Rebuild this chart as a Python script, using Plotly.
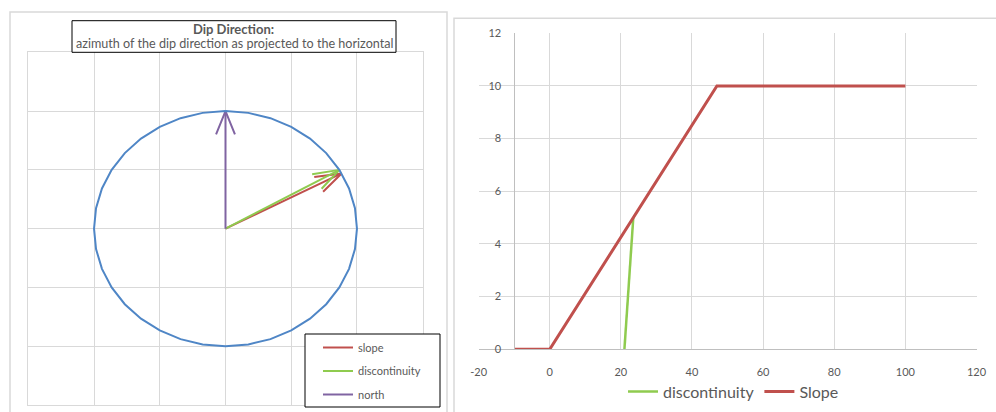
import numpy as np
import plotly.graph_objects as go

# ---- Dip-direction panel: azimuths in degrees, clockwise from north ----
AZ_LABELS = ["slope", "discontinuity", "north"]
AZ_DEGREES = [62, 60, 0]
AZ_COLORS = ["#C0504D", "#8FCB4F", "#8064A2"]
CIRCLE_RADIUS = 1.0
CIRCLE_STEP_DEG = 10

# ---- Cross-section panel ----
SLOPE_X = [-10, 0, 47, 100]
SLOPE_Y = [0, 0, 10, 10]
DISC_X = [21, 23.5]
DISC_Y = [0, 5]
X_TICKS = [-20, 0, 20, 40, 60, 80, 100, 120]
X_TICK_TEXT = ["-20", "0", "20", "40", "60", "80", "100", "120"]
Y_TICKS = [0, 2, 4, 6, 8, 10, 12]

W, H = 996, 412
FONT = "Lato"
GRID = "#D9D9D9"
AXIS = "#BFBFBF"
TEXT = "#595959"


def px(x):
    return x / W


def py(y):
    return 1 - y / H


def arrow_path(az_deg, length, head=0.21, spread=20):
    """Shaft from the origin plus an open arrowhead at the tip."""
    a = np.radians(az_deg)
    tx, ty = length * np.sin(a), length * np.cos(a)
    back = a + np.pi
    xs, ys = [0, tx, None], [0, ty, None]
    b1, b2 = back - np.radians(spread), back + np.radians(spread)
    xs += [tx + head * np.sin(b1), tx, tx + head * np.sin(b2)]
    ys += [ty + head * np.cos(b1), ty, ty + head * np.cos(b2)]
    return xs, ys


fig = go.Figure()

# arrows
for name, az, col in zip(AZ_LABELS, AZ_DEGREES, AZ_COLORS):
    xs, ys = arrow_path(az, CIRCLE_RADIUS)
    fig.add_trace(go.Scatter(
        x=xs, y=ys, mode="lines", name=name,
        line=dict(color=col, width=2),
        xaxis="x", yaxis="y", legend="legend2", legendgroup=name,
        hoverinfo="skip",
    ))

# reference circle
ang = np.radians(np.arange(0, 360 + CIRCLE_STEP_DEG, CIRCLE_STEP_DEG))
fig.add_trace(go.Scatter(
    x=CIRCLE_RADIUS * np.sin(ang), y=CIRCLE_RADIUS * np.cos(ang),
    mode="lines", line=dict(color="#4F86C6", width=2),
    showlegend=False, xaxis="x", yaxis="y", hoverinfo="skip",
))

# cross-section lines
fig.add_trace(go.Scatter(
    x=DISC_X, y=DISC_Y, mode="lines", name="discontinuity",
    line=dict(color="#8FCB4F", width=2.5),
    xaxis="x2", yaxis="y2", legend="legend",
))
fig.add_trace(go.Scatter(
    x=SLOPE_X, y=SLOPE_Y, mode="lines", name="Slope",
    line=dict(color="#C0504D", width=3),
    xaxis="x2", yaxis="y2", legend="legend",
))

shapes = [
    # chart-area frames
    dict(type="rect", xref="paper", yref="paper",
         x0=px(10), x1=px(447), y0=py(430), y1=py(12),
         line=dict(color=GRID, width=1.5), layer="below"),
    dict(type="rect", xref="paper", yref="paper",
         x0=px(454), x1=px(1010), y0=py(430), y1=py(18.3),
         line=dict(color=GRID, width=1.5), layer="below"),
    # title box
    dict(type="rect", xref="paper", yref="paper",
         x0=px(72), x1=px(396), y0=py(52.3), y1=py(20.7),
         line=dict(color="black", width=1), fillcolor="white", layer="above"),
    # legend box of the compass panel
    dict(type="rect", xref="paper", yref="paper",
         x0=px(305), x1=px(440), y0=py(407), y1=py(334),
         line=dict(color="black", width=1), fillcolor="white", layer="above"),
]

annotations = [
    dict(text="<b>Dip Direction:</b>", xref="paper", yref="paper",
         x=px(233.5), y=py(28.5), xanchor="center", yanchor="middle",
         showarrow=False, font=dict(family=FONT, size=13, color=TEXT)),
    dict(text="azimuth of the dip direction as projected to the horizontal",
         xref="paper", yref="paper",
         x=px(235), y=py(43.5), xanchor="center", yanchor="middle",
         showarrow=False, font=dict(family=FONT, size=12.6, color=TEXT)),
]

fig.update_layout(
    width=W, height=H,
    margin=dict(l=0, r=0, t=0, b=0),
    paper_bgcolor="white", plot_bgcolor="white",
    font=dict(family=FONT, size=10, color=TEXT),
    shapes=shapes, annotations=annotations,
    xaxis=dict(domain=[px(28.3), px(422.7)], range=[-1.5, 1.5], dtick=0.5,
               showticklabels=False, ticks="", gridcolor=GRID, gridwidth=1,
               zeroline=False, showline=True, mirror=True, linecolor=GRID,
               anchor="y", fixedrange=True),
    yaxis=dict(domain=[py(405), py(52.3)], range=[-1.5, 1.5], dtick=0.5,
               showticklabels=False, ticks="", gridcolor=GRID, gridwidth=1,
               zeroline=False, showline=True, mirror=True, linecolor=GRID,
               anchor="x", fixedrange=True),
    xaxis2=dict(domain=[px(478.6), px(976.5)], range=[-20, 120],
                tickmode="array", tickvals=X_TICKS, ticktext=X_TICK_TEXT,
                ticks="", ticklabelstandoff=12, gridcolor=GRID, gridwidth=1,
                zeroline=False, showline=True, linecolor=AXIS,
                anchor="y2", automargin=False,
                tickfont=dict(family=FONT, size=11, color=TEXT)),
    yaxis2=dict(domain=[py(349.3), py(33.3)], range=[0, 12],
                tickmode="array", tickvals=Y_TICKS,
                ticks="", ticklabelstandoff=11, gridcolor=GRID, gridwidth=1,
                zeroline=False, showline=True, linecolor=AXIS,
                anchor="free", position=px(514.4), automargin=False,
                tickfont=dict(family=FONT, size=11, color=TEXT)),
    legend=dict(orientation="h", x=px(733.5), y=py(391.7),
                xanchor="center", yanchor="middle",
                bgcolor="rgba(0,0,0,0)", borderwidth=0,
                font=dict(family=FONT, size=16, color=TEXT)),
    legend2=dict(orientation="v", x=px(318), y=py(333),
                 xanchor="left", yanchor="top",
                 bgcolor="rgba(0,0,0,0)", borderwidth=0,
                 traceorder="grouped", tracegroupgap=4.5,
                 font=dict(family=FONT, size=11, color=TEXT)),
)

fig.write_html("out.html")
